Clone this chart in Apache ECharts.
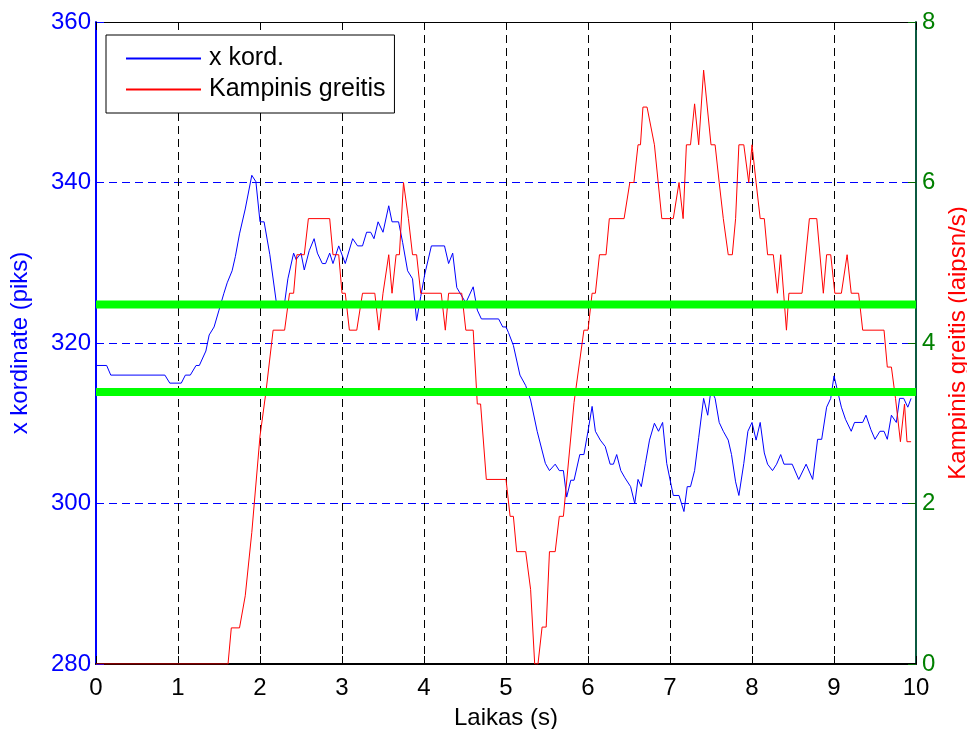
<!DOCTYPE html>
<html>
<head>
<meta charset="utf-8">
<script src="https://cdn.jsdelivr.net/npm/echarts@6/dist/echarts.min.js"></script>
<style>
  html, body { margin: 0; padding: 0; background: #fff; overflow: hidden; }
  #chart { width: 967px; height: 729px; }
</style>
</head>
<body>
<div id="chart"></div>
<script>
// Time axis ticks (s)
const timeTicks = [0, 1, 2, 3, 4, 5, 6, 7, 8, 9, 10];

// x coordinate of the tracked object (pixels) – sample times and values
const coordTime = [
  0.00, 0.13, 0.18, 0.84, 0.90, 1.04, 1.09, 1.15, 1.22, 1.26, 1.34, 1.38, 1.44, 1.50, 1.56, 1.60,
  1.66, 1.70, 1.75, 1.82, 1.90, 1.95, 2.00, 2.05, 2.12, 2.20, 2.30, 2.34, 2.41, 2.44, 2.50, 2.54,
  2.60, 2.66, 2.70, 2.76, 2.80, 2.85, 2.89, 2.96, 3.04, 3.13, 3.19, 3.25, 3.30, 3.35, 3.39, 3.44,
  3.50, 3.57, 3.61, 3.69, 3.74, 3.80, 3.86, 3.91, 3.96, 4.01, 4.09, 4.25, 4.30, 4.35, 4.40, 4.51,
  4.60, 4.65, 4.70, 4.91, 4.96, 5.00, 5.03, 5.09, 5.17, 5.24, 5.30, 5.38, 5.48, 5.53, 5.60, 5.65,
  5.70, 5.74, 5.79, 5.83, 5.90, 5.95, 6.00, 6.05, 6.09, 6.15, 6.21, 6.27, 6.31, 6.35, 6.40, 6.45,
  6.52, 6.57, 6.61, 6.65, 6.70, 6.75, 6.81, 6.86, 6.91, 6.96, 7.04, 7.11, 7.17, 7.21, 7.25, 7.30,
  7.35, 7.41, 7.46, 7.50, 7.55, 7.60, 7.65, 7.71, 7.75, 7.80, 7.84, 7.90, 7.95, 8.00, 8.05, 8.10,
  8.15, 8.19, 8.25, 8.30, 8.35, 8.39, 8.49, 8.57, 8.66, 8.74, 8.80, 8.85, 8.91, 8.96, 9.00, 9.09,
  9.14, 9.21, 9.25, 9.35, 9.39, 9.45, 9.50, 9.56, 9.61, 9.65, 9.70, 9.76, 9.80, 9.85, 9.90, 9.94
];
const coordValue = [
  317.2, 317.2, 316.0, 316.0, 315.0, 315.0, 316.0, 316.0, 317.2, 317.2, 319.0, 321.0, 322.0, 324.1, 326.2, 327.5,
  329.0, 330.8, 333.6, 336.7, 340.9, 340.1, 335.1, 335.1, 331.0, 325.0, 325.0, 328.0, 331.2, 330.4, 331.2, 329.1,
  331.5, 333.0, 331.2, 329.9, 329.9, 331.2, 329.9, 332.1, 329.9, 333.0, 332.1, 332.1, 333.8, 333.8, 333.0, 335.1,
  333.8, 337.1, 335.1, 335.1, 332.5, 329.0, 328.0, 322.8, 325.8, 328.6, 332.1, 332.1, 329.9, 331.2, 326.9, 325.0,
  327.0, 324.1, 323.0, 323.0, 322.0, 322.0, 321.3, 319.7, 316.0, 314.7, 312.9, 309.0, 305.0, 304.1, 304.9, 304.1,
  304.1, 300.8, 302.9, 302.9, 306.1, 306.1, 309.0, 312.1, 309.0, 307.9, 307.1, 304.9, 304.9, 306.1, 304.1, 303.2,
  302.1, 300.0, 303.0, 302.1, 305.0, 307.9, 310.0, 309.0, 310.1, 305.0, 301.0, 301.0, 299.0, 302.1, 302.1, 304.1,
  308.2, 313.1, 311.0, 314.2, 313.1, 310.1, 309.0, 307.9, 306.1, 302.7, 301.0, 305.0, 309.0, 310.1, 307.9, 310.1,
  306.3, 304.9, 304.1, 304.9, 306.1, 304.9, 304.9, 303.0, 304.9, 303.0, 308.0, 308.0, 312.0, 313.1, 315.9, 312.0,
  310.5, 309.0, 310.1, 310.1, 311.0, 309.2, 308.0, 309.0, 309.0, 308.0, 311.0, 310.1, 313.1, 313.1, 312.0, 313.1
];

// Angular speed (deg/s) – sample times and values
const speedTime = [
  0.00, 1.61, 1.65, 1.75, 1.82, 1.90, 2.00, 2.07, 2.16, 2.30, 2.36, 2.41, 2.45, 2.54, 2.59, 2.85,
  2.89, 2.96, 3.00, 3.04, 3.09, 3.18, 3.25, 3.40, 3.45, 3.50, 3.57, 3.61, 3.66, 3.70, 3.75, 3.81,
  3.86, 3.91, 3.96, 4.21, 4.26, 4.30, 4.46, 4.51, 4.60, 4.65, 4.69, 4.76, 5.00, 5.05, 5.09, 5.13,
  5.24, 5.30, 5.35, 5.39, 5.44, 5.49, 5.53, 5.60, 5.65, 5.70, 5.83, 5.95, 6.00, 6.05, 6.09, 6.14,
  6.22, 6.26, 6.44, 6.51, 6.56, 6.61, 6.64, 6.67, 6.72, 6.81, 6.90, 7.04, 7.11, 7.16, 7.20, 7.25,
  7.30, 7.35, 7.41, 7.50, 7.55, 7.60, 7.65, 7.71, 7.76, 7.80, 7.84, 7.90, 7.96, 8.00, 8.05, 8.10,
  8.15, 8.19, 8.26, 8.31, 8.35, 8.42, 8.45, 8.61, 8.70, 8.79, 8.87, 8.91, 8.96, 9.01, 9.09, 9.16,
  9.21, 9.30, 9.35, 9.61, 9.65, 9.70, 9.75, 9.81, 9.86, 9.89, 9.94
];
const speedValue = [
  0.00, 0.00, 0.45, 0.45, 0.85, 1.64, 2.84, 3.37, 4.16, 4.16, 4.62, 4.62, 5.10, 5.10, 5.55, 5.55,
  5.10, 5.10, 4.62, 4.62, 4.16, 4.16, 4.62, 4.62, 4.16, 4.62, 5.10, 4.62, 5.10, 5.10, 6.00, 5.55,
  5.10, 5.10, 4.62, 4.62, 4.16, 4.62, 4.62, 4.16, 4.16, 3.24, 3.24, 2.30, 2.30, 1.84, 1.84, 1.40,
  1.40, 0.93, 0.00, 0.00, 0.46, 0.46, 1.40, 1.40, 1.84, 1.84, 3.26, 4.16, 4.16, 4.62, 4.62, 5.10,
  5.10, 5.55, 5.55, 6.00, 6.00, 6.47, 6.47, 6.94, 6.94, 6.47, 5.55, 5.55, 6.00, 5.55, 6.47, 6.47,
  6.98, 6.47, 7.40, 6.47, 6.47, 6.00, 5.55, 5.10, 5.10, 5.55, 6.47, 6.47, 6.00, 6.47, 6.00, 5.55,
  5.55, 5.10, 5.10, 4.62, 5.10, 4.16, 4.62, 4.62, 5.55, 5.55, 4.62, 5.10, 5.10, 4.62, 4.62, 5.10,
  4.62, 4.62, 4.16, 4.16, 3.70, 3.70, 3.31, 2.77, 3.24, 2.77, 2.77
];

// Threshold levels (left axis units)
const thresholds = [324.8, 313.9];

const FONT = 'Liberation Sans, Arial, sans-serif';
const zip = (a, b) => a.map((v, i) => [v, b[i]]);

const chart = echarts.init(document.getElementById('chart'), null, { renderer: 'canvas' });

const thresholdSeries = thresholds.map((lvl, i) => ({
  name: 'riba' + (i + 1),
  type: 'line',
  yAxisIndex: 0,
  data: [[timeTicks[0], lvl], [timeTicks[timeTicks.length - 1], lvl]],
  symbol: 'none',
  silent: true,
  lineStyle: { color: '#00ff00', width: 8 },
  z: 5
}));

chart.setOption({
  animation: false,
  backgroundColor: '#ffffff',
  textStyle: { fontFamily: FONT },
  grid: { left: 96, right: 51, top: 22, bottom: 65, containLabel: false, outerBoundsMode: 'none' },
  legend: {
    data: ['x kord.', 'Kampinis greitis'],
    orient: 'vertical',
    left: 106,
    top: 35,
    padding: [11, 9, 11, 19],
    itemGap: 6,
    itemWidth: 75,
    itemHeight: 12,
    backgroundColor: '#ffffff',
    borderColor: '#000000',
    borderWidth: 1,
    borderRadius: 0,
    itemStyle: { opacity: 0 },
    textStyle: { fontFamily: FONT, fontSize: 25, color: '#000', lineHeight: 25, padding: [0, 0, 0, 3] }
  },
  xAxis: [
    {
      type: 'value', min: 0, max: 10, interval: 1,
      name: 'Laikas (s)', nameLocation: 'middle', nameGap: 42,
      nameTextStyle: { fontFamily: FONT, fontSize: 24, color: '#000' },
      axisLine: { onZero: false, lineStyle: { color: '#000', width: 2 } },
      axisTick: { inside: true, length: 8, lineStyle: { color: '#000' } },
      axisLabel: { fontFamily: FONT, fontSize: 24, color: '#000', margin: 12 },
      splitLine: { show: true, showMinLine: false, showMaxLine: false,
        lineStyle: { color: '#000', type: [8, 5], width: 1 } }
    },
    {
      type: 'value', min: 0, max: 10, interval: 1, position: 'top',
      axisLine: { onZero: false, lineStyle: { color: '#000', width: 1 } },
      axisTick: { inside: true, length: 8, lineStyle: { color: '#000' } },
      axisLabel: { show: false },
      splitLine: { show: false }
    }
  ],
  yAxis: [
    {
      type: 'value', min: 280, max: 360, interval: 20, position: 'left',
      name: 'x kordinate (piks)', nameLocation: 'middle', nameGap: 64,
      nameTextStyle: { fontFamily: FONT, fontSize: 24, color: '#0000ff' },
      axisLine: { show: true, onZero: false, lineStyle: { color: '#0000ff', width: 2 } },
      axisTick: { show: true, inside: true, length: 8, lineStyle: { color: '#0000ff' } },
      axisLabel: { fontFamily: FONT, fontSize: 24, color: '#0000ff', margin: 5 },
      splitLine: { show: true, showMinLine: false, showMaxLine: false,
        lineStyle: { color: '#0000ff', type: [8, 5], width: 1 } }
    },
    {
      type: 'value', min: 0, max: 8, interval: 2, position: 'right',
      name: 'Kampinis greitis (laipsn/s)', nameLocation: 'middle', nameGap: 36,
      nameRotate: 90,
      nameTextStyle: { fontFamily: FONT, fontSize: 24, color: '#ff0000', verticalAlign: 'bottom' },
      axisLine: { show: true, onZero: false, lineStyle: { color: '#0b5a40', width: 2 } },
      axisTick: { show: true, inside: true, length: 8, lineStyle: { color: '#006400' } },
      axisLabel: { fontFamily: FONT, fontSize: 24, color: '#008000', margin: 6 },
      splitLine: { show: false }
    }
  ],
  series: [
    {
      name: 'x kord.', type: 'line', yAxisIndex: 0,
      data: zip(coordTime, coordValue),
      symbol: 'none', showSymbol: false,
      lineStyle: { color: '#0000ff', width: 1 },
      itemStyle: { color: '#0000ff' },
      z: 3
    },
    {
      name: 'Kampinis greitis', type: 'line', yAxisIndex: 1,
      data: zip(speedTime, speedValue),
      symbol: 'none', showSymbol: false,
      lineStyle: { color: '#ff0000', width: 1 },
      itemStyle: { color: '#ff0000' },
      z: 4
    },
    ...thresholdSeries
  ]
});
</script>
</body>
</html>
